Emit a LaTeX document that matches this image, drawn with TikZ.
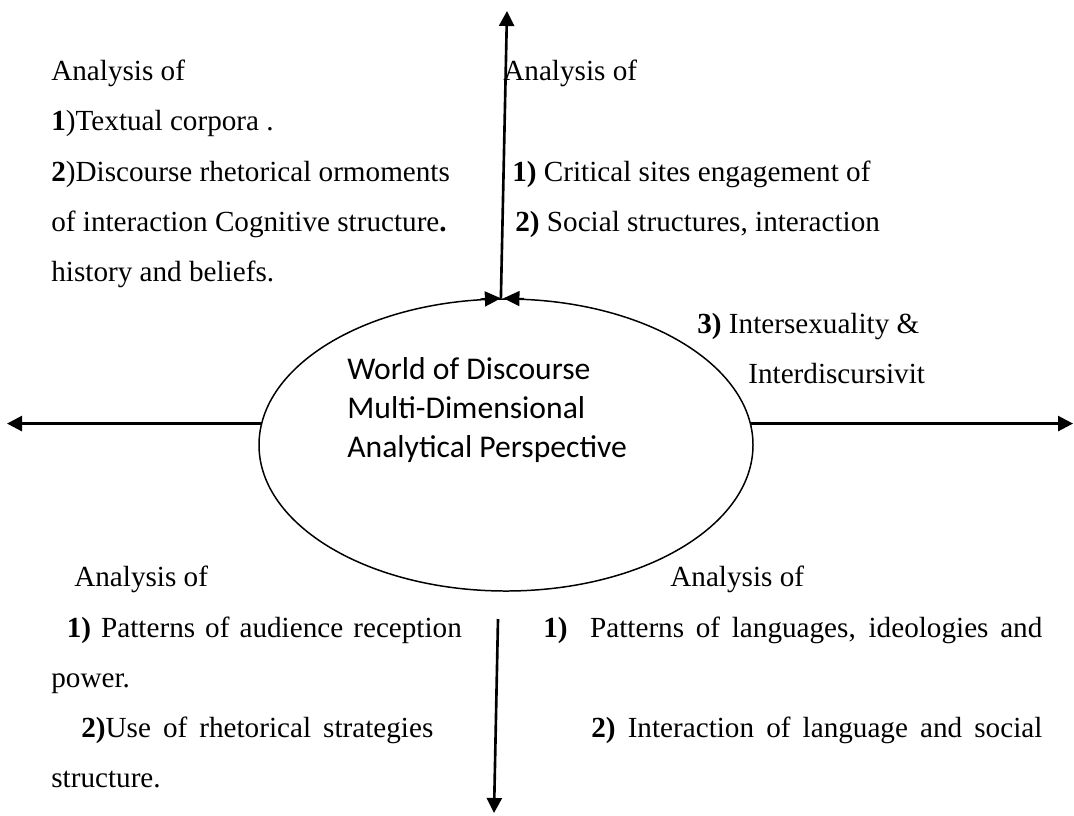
\documentclass[tikz,border=0pt]{standalone}
\usepackage{fontspec}
\setmainfont{Liberation Serif}
\newfontfamily\calibri{Carlito}
\usetikzlibrary{shapes.geometric,arrows.meta}
\tikzset{
    txt/.style={anchor=base west, inner sep=0pt, font=\fontsize{16.6}{20}\selectfont},
    inner/.style={anchor=base west, inner sep=0pt, font=\calibri\fontsize{18}{22}\selectfont},
    arr/.style={line width=1.5pt, -{Triangle[length=0.3cm,width=0.3cm]}},
    head/.style={line width=0.85pt, -{Triangle[length=0.32cm,width=0.3cm]}}
}
\begin{document}
\begin{tikzpicture}[y=-1cm]
            \useasboundingbox (0,0) rectangle (21.48,16.3);
            \node[draw, ellipse, line width=0.85pt, inner sep=0pt, minimum width=9.88cm, minimum height=5.84cm] (world) at (10.12,8.9) {};
            \foreach \y \t [count=\i] in {7.58/World of Discourse, 8.36/Multi-Dimensional, 9.14/Analytical Perspective}
            \node[inner] (w\i) at (6.94,\y) {\t};
            \foreach \y \t [count=\i] in {1.6/Analysis of, 2.61/{\textbf{1})Textual corpora .}, 3.62/{\textbf{2})Discourse rhetorical ormoments}, 4.62/{of interaction Cognitive structure\textbf{.}}, 5.63/{history and beliefs.}}
            \node[txt] (tl\i) at (1.02,\y) {\t};
            \foreach \x \y \t [count=\i] in {10.06/1.6/Analysis of, 10.24/3.62/{\textbf{1)} Critical sites engagement of}, 10.3/4.62/{\textbf{2)} Social structures, interaction}, 13.94/6.66/{\textbf{3)} Intersexuality \&}, 14.96/7.66/Interdiscursivit}
            \node[txt] (tr\i) at (\x,\y) {\t};
            \node[txt] (bl1) at (1.48,11.72) {Analysis of};
            \node[txt] (bl2) at (1.33,12.74) {\makebox[7.9cm][s]{\textbf{1)} Patterns of audience reception}};
            \node[txt] (bl3) at (1.02,13.74) {power.};
            \node[txt] (bl4) at (1.62,14.74) {\makebox[7.04cm][s]{\textbf{2)}Use of rhetorical strategies}};
            \node[txt] (bl5) at (1.02,15.74) {structure.};
            \node[txt] (br1) at (13.4,11.72) {Analysis of};
            \node[txt] (br2) at (10.86,12.74) {\makebox[9.98cm][s]{\textbf{1)}\hspace{0.45cm}Patterns of languages, ideologies and}};
            \node[txt] (br3) at (11.82,14.74) {\makebox[9.02cm][s]{\textbf{2)} Interaction of language and social}};
            \coordinate (toptip) at (10.14,0.22);
            \coordinate (lefttip) at (0.14,8.44);
            \coordinate (righttip) at (21.46,8.44);
            \coordinate (botstart) at (9.96,12.38);
            \coordinate (bottip) at (9.88,16.26);
            \draw[arr] (world.92) -- (toptip);
            \draw[arr] (world.175) -- (world.175 -| lefttip);
            \draw[arr] (world.5) -- (world.5 -| righttip);
            \draw[arr] (botstart) -- (bottip);
            \draw[head] (world.100) -- (world.92);
            \draw[head] (world.83) -- (world.91.5);
        \end{tikzpicture}
\end{document}
